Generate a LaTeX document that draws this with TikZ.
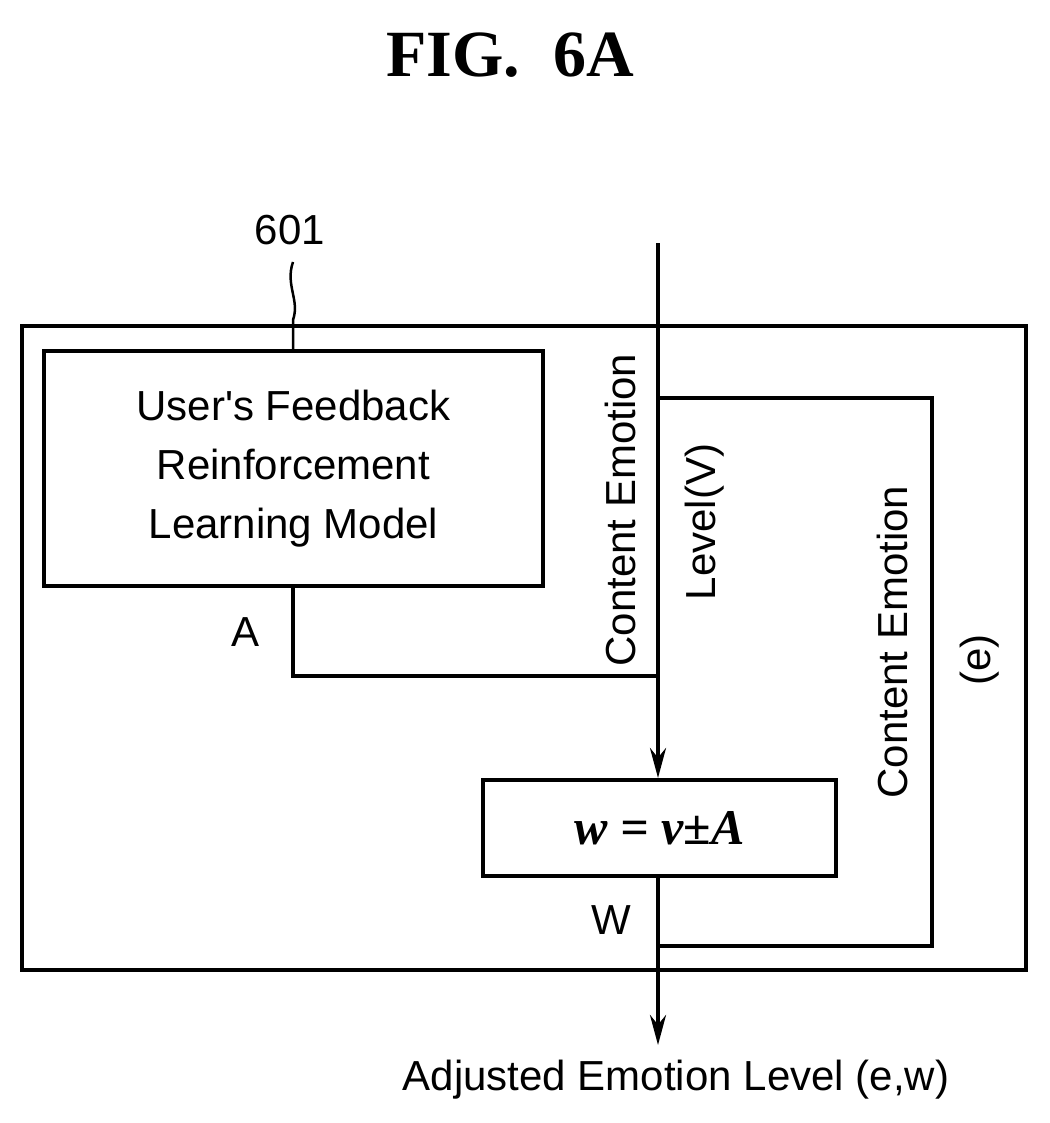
\documentclass[tikz,border=0pt]{standalone}
\usepackage{fontspec}
\setmainfont{Liberation Sans}
\newfontfamily\titlefont{Liberation Serif}
\usetikzlibrary{arrows.meta}
\begin{document}
\begin{tikzpicture}[x=1pt,y=-1pt,line width=4pt,
  lbl/.style={font=\fontsize{42}{50}\selectfont,inner sep=0},
  arr/.style={-{Stealth[length=30pt,width=16pt]}}]
\useasboundingbox (0,0) rectangle (1049,1123);
\node[font=\titlefont\bfseries\fontsize{66}{70}\selectfont] (title) at (510,55) {FIG.\ \ 6A};
\draw (22,326) rectangle (1026,970);
\node[draw,minimum width=499pt,minimum height=235pt,align=center,inner sep=0,line width=4pt,font=\fontsize{42}{59}\selectfont] (m) at (293.5,468.5) {User\textquotesingle s Feedback\\Reinforcement\\Learning Model};
\node[lbl] (n601) at (290,230) {601};
\draw[line width=2.5pt] (293,262) .. controls (285,285) and (300,300) .. (293,320) -- (m.north -| 293,0);
\node[draw,minimum width=353pt,minimum height=96pt,line width=4pt,inner sep=0,font=\titlefont\bfseries\itshape\fontsize{50}{50}\selectfont] (f) at (659.5,828) {w = v±A};
\coordinate (top) at (658,243);
\coordinate (out) at (658,1045);
\coordinate (j1) at (658,398);
\coordinate (j2) at (658,946);
\coordinate (j3) at (658,676);
\draw[arr] (top) -- (f.north -| top);
\draw[arr] (f.south -| top) -- (out);
\draw (j1) -- (932,398) -- (932,946) -- (j2);
\draw (m.south -| 293,0) -- (293,676) -- (j3);
\node[lbl] (A) at (246,632) {A};
\node[lbl] (W) at (611,920) {W};
\node[lbl,rotate=90] (ce1) at (620,510) {Content Emotion};
\node[lbl,rotate=90] (lv) at (705,522) {Level(V)};
\node[lbl,rotate=90] (ce2) at (892,642) {Content Emotion};
\node[lbl,rotate=90] (e) at (980,660) {(e)};
\node[lbl] (adj) at (676,1080) {Adjusted Emotion Level (e,w)};
\end{tikzpicture}
\end{document}
